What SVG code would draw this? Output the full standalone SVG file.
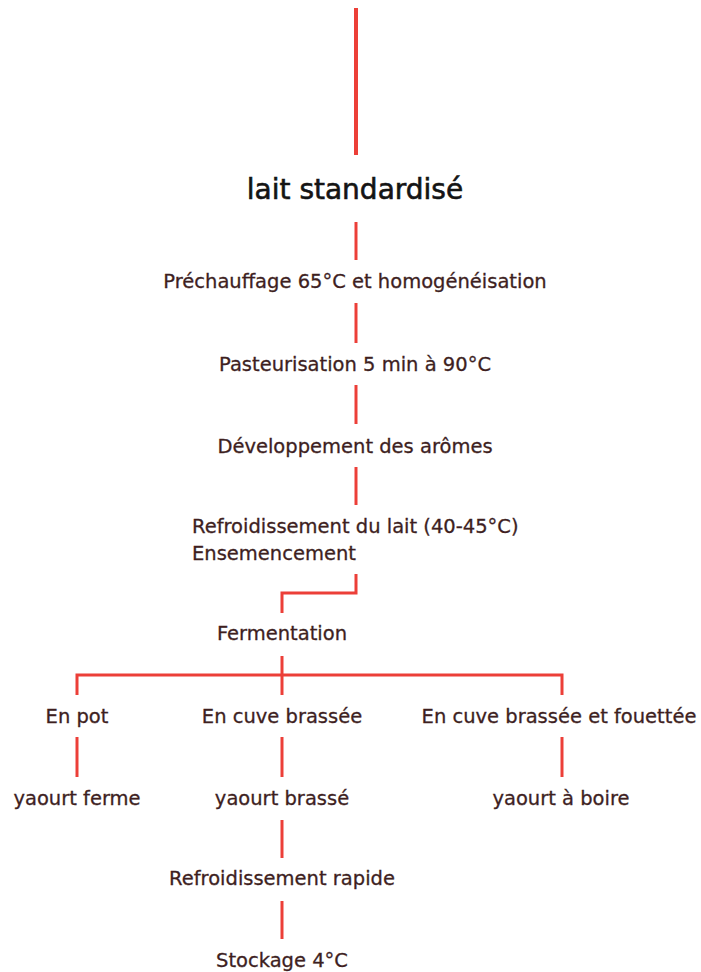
<svg xmlns="http://www.w3.org/2000/svg" width="701" height="972" viewBox="0 0 701 972">
<style>
.t{font-family:"DejaVu Sans","Liberation Sans",sans-serif;font-size:19.5px;fill:#3e1f1f;stroke:#3e1f1f;stroke-width:0.3;}
.c{text-anchor:middle;}
.title{font-family:"DejaVu Sans","Liberation Sans",sans-serif;font-size:28px;fill:#141414;stroke:#141414;stroke-width:0.6;text-anchor:middle;}
.ln{stroke:#ec3f38;stroke-width:3;fill:none;}
</style>
<rect width="701" height="972" fill="#ffffff"/>
<g id="connectors">
<line class="ln" x1="356" y1="8" x2="356" y2="155" style="stroke-width:4"/>
<line class="ln" x1="356" y1="222" x2="356" y2="260"/>
<line class="ln" x1="356" y1="303" x2="356" y2="343"/>
<line class="ln" x1="356" y1="385" x2="356" y2="424"/>
<line class="ln" x1="356" y1="467" x2="356" y2="505"/>
<polyline class="ln" points="356,574 356,593 282,593 282,613"/>
<line class="ln" x1="282" y1="656" x2="282" y2="695"/>
<polyline class="ln" points="77,695 77,675 562,675 562,695"/>
<line class="ln" x1="77" y1="737" x2="77" y2="777"/>
<line class="ln" x1="282" y1="737" x2="282" y2="777"/>
<line class="ln" x1="562" y1="737" x2="562" y2="777"/>
<line class="ln" x1="282" y1="820" x2="282" y2="858"/>
<line class="ln" x1="282" y1="901" x2="282" y2="939"/>
</g>
<g id="lait"><text class="title" x="355" y="199">lait standardisé</text></g>
<g id="prechauffage"><text class="t c" x="355" y="288">Préchauffage 65°C et homogénéisation</text></g>
<g id="pasteurisation"><text class="t c" x="355" y="371">Pasteurisation 5 min à 90°C</text></g>
<g id="aromes"><text class="t c" x="355" y="453">Développement des arômes</text></g>
<g id="refroidissement"><text class="t" x="192" y="533">Refroidissement du lait (40-45°C)</text><text class="t" x="192" y="560">Ensemencement</text></g>
<g id="fermentation"><text class="t c" x="282" y="640">Fermentation</text></g>
<g id="enpot"><text class="t c" x="77" y="723">En pot</text></g>
<g id="encuve"><text class="t c" x="282" y="723">En cuve brassée</text></g>
<g id="encuvefouettee"><text class="t c" x="559" y="723">En cuve brassée et fouettée</text></g>
<g id="ferme"><text class="t c" x="77" y="805">yaourt ferme</text></g>
<g id="brasse"><text class="t c" x="282" y="805">yaourt brassé</text></g>
<g id="boire"><text class="t c" x="561" y="805">yaourt à boire</text></g>
<g id="refroidrapide"><text class="t c" x="282" y="885">Refroidissement rapide</text></g>
<g id="stockage"><text class="t c" x="282" y="967">Stockage 4°C</text></g>
</svg>
